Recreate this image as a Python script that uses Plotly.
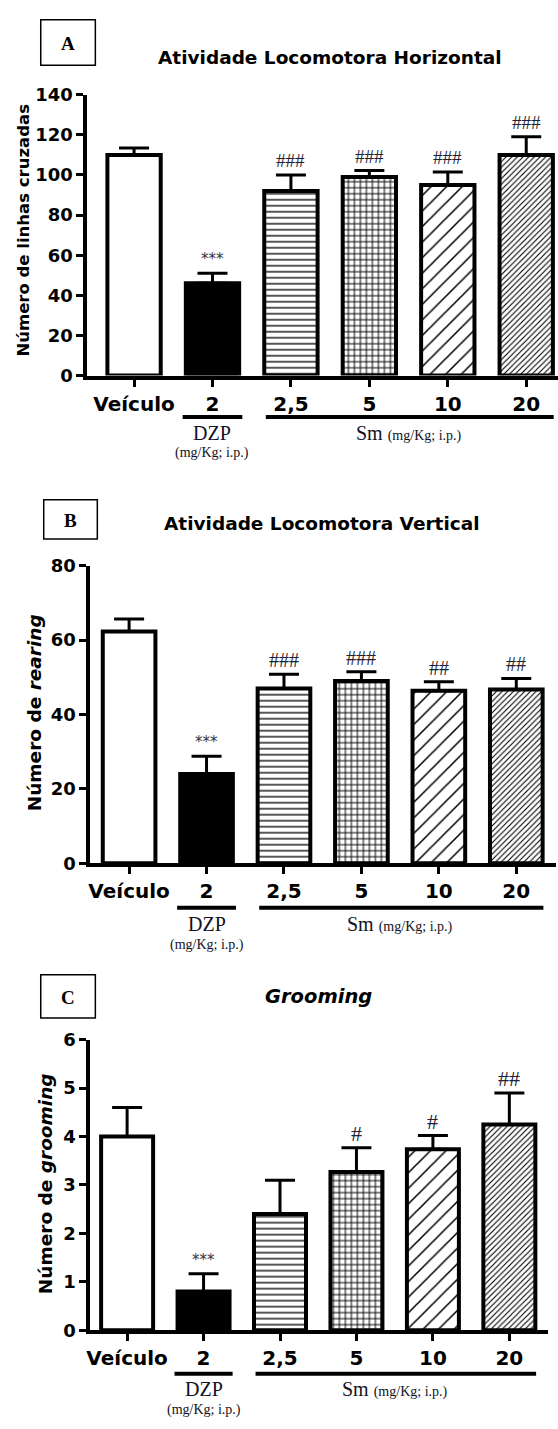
import plotly.graph_objects as go

W, H = 558, 1429

categories = ["Veículo", "2", "2,5", "5", "10", "20"]

a_mean = [110, 46, 92, 99, 95, 110]
a_err = [3.5, 5, 8, 3.2, 6.5, 9]
a_sig = ["", "***", "###", "###", "###", "###"]

b_mean = [62.3, 24, 47, 49, 46.4, 46.7]
b_err = [3.4, 4.8, 3.8, 2.5, 2.4, 3.0]
b_sig = ["", "***", "###", "###", "##", "##"]

c_mean = [4.0, 0.8, 2.4, 3.27, 3.74, 4.25]
c_err = [0.6, 0.37, 0.7, 0.5, 0.28, 0.65]
c_sig = ["", "***", "", "#", "#", "##"]

a_ticks = [0, 20, 40, 60, 80, 100, 120, 140]
b_ticks = [0, 20, 40, 60, 80]
c_ticks = [0, 1, 2, 3, 4, 5, 6]

fill_colors = ["white", "black", "white", "white", "white", "white"]
pat_shapes = ["", "", "-", "+", "/", "/"]
pat_sizes = [8, 8, 6, 6, 11, 4]
pat_solid = [0.2, 0.2, 0.22, 0.3, 0.14, 0.28]


def xp(px):
    return px / W


def yp(py):
    return 1 - py / H


panels = [
    dict(k="", m=a_mean, e=a_err, s=a_sig, t=a_ticks, ymax=140, y0=370, y1=85, ax=84, c0=131, sp=79, right=558,
         title="Atividade Locomotora Horizontal", tcx=328, tcy=47, tsize=18.5,
         ytitle="Número de linhas cruzadas", ytx=20, yty=222, ytsize=16.5,
         line_y=412, lab_y=428, mg_y=449, box=(37, 9, 92, 55), letter="A", sigsize=19),
    dict(k="2", m=b_mean, e=b_err, s=b_sig, t=b_ticks, ymax=80, y0=865, y1=563, ax=87, c0=126, sp=78, right=556,
         title="Atividade Locomotora Vertical", tcx=320, tcy=520, tsize=18.5,
         ytitle="Número de <i>rearing</i>", ytx=31, yty=712, ytsize=18.5,
         line_y=910, lab_y=927, mg_y=948, box=(40, 496, 94, 536), letter="B", sigsize=20),
    dict(k="3", m=c_mean, e=c_err, s=c_sig, t=c_ticks, ymax=6, y0=1339, y1=1044, ax=87, c0=124, sp=77, right=548,
         title="<i>Grooming</i>", tcx=317, tcy=1000, tsize=19.5,
         ytitle="Número de <i>grooming</i>", ytx=42, yty=1190, ytsize=18.5,
         line_y=1383, lab_y=1399, mg_y=1420, box=(37, 978, 92, 1022), letter="C", sigsize=22),
]

fig = go.Figure()
annotations = []
shapes = []
layout = {}

for p in panels:
    k = p["k"]
    xa = "x" + k
    ya = "y" + k
    for i, cat in enumerate(categories):
        pattern = dict(shape=pat_shapes[i], size=pat_sizes[i], solidity=pat_solid[i],
                       fgcolor="black", bgcolor=fill_colors[i], fillmode="replace")
        fig.add_trace(go.Bar(
            x=[i], y=[p["m"][i]], xaxis=xa, yaxis=ya, width=0.68,
            marker=dict(color=fill_colors[i], line=dict(color="black", width=4), pattern=pattern),
            error_y=dict(type="data", array=[p["e"][i]], arrayminus=[0], symmetric=False,
                         color="black", thickness=3, width=15),
            showlegend=False, hoverinfo="skip",
        ))
    left = (p["ax"] - p["c0"]) / p["sp"]
    right = (p["right"] - p["c0"]) / p["sp"]
    layout["xaxis" + k] = dict(
        domain=[xp(p["ax"]), xp(p["right"])], anchor=ya, type="linear",
        range=[left, right], tickvals=list(range(len(categories))), ticktext=categories,
        showline=True, linecolor="black", linewidth=4,
        ticks="outside", ticklen=7, tickwidth=3, tickcolor="black",
        tickfont=dict(family="DejaVu Sans", size=20, color="black", weight="bold"),
        showgrid=False, zeroline=False, fixedrange=True,
    )
    layout["yaxis" + k] = dict(
        domain=[yp(p["y0"]), yp(p["y1"])], anchor=xa, range=[0, p["ymax"]],
        tickvals=p["t"], showline=True, linecolor="black", linewidth=4,
        ticks="outside", ticklen=7, tickwidth=3, tickcolor="black",
        tickfont=dict(family="DejaVu Sans", size=18, color="black", weight="bold"),
        showgrid=False, zeroline=False, fixedrange=True,
    )
    for i, (m, e, s) in enumerate(zip(p["m"], p["e"], p["s"])):
        if not s:
            continue
        if s.startswith("*"):
            font = dict(family="DejaVu Sans", size=15, color="#333344")
        else:
            font = dict(family="Liberation Serif", size=p["sigsize"], color="#222233")
        annotations.append(dict(x=i, y=m + e, xref=xa, yref=ya, text=s, showarrow=False,
                                yanchor="middle", yshift=14, font=font))
    tfont = dict(family="DejaVu Sans", size=p["tsize"], color="black", weight="bold")
    annotations.append(dict(x=xp(p["tcx"]), y=yp(p["tcy"]), xref="paper", yref="paper",
                            text=p["title"], showarrow=False, xanchor="center", yanchor="middle",
                            font=tfont))
    annotations.append(dict(x=xp(p["ytx"]), y=yp(p["yty"]), xref="paper", yref="paper",
                            text=p["ytitle"], showarrow=False, textangle=-90,
                            xanchor="center", yanchor="middle",
                            font=dict(family="DejaVu Sans", size=p["ytsize"], color="black",
                                      weight="bold")))
    bx0, by0, bx1, by1 = p["box"]
    shapes.append(dict(type="rect", xref="paper", yref="paper", x0=xp(bx0), x1=xp(bx1),
                       y0=yp(by1), y1=yp(by0), line=dict(color="black", width=1.5)))
    annotations.append(dict(x=xp((bx0 + bx1) / 2), y=yp((by0 + by1) / 2 + 1), xref="paper", yref="paper",
                            text="<b>" + p["letter"] + "</b>", showarrow=False,
                            xanchor="center", yanchor="middle",
                            font=dict(family="Liberation Serif", size=19, color="black")))
    ly = yp(p["line_y"])
    shapes.append(dict(type="line", xref=xa, yref="paper", x0=1 - 0.38, x1=1 + 0.38, y0=ly, y1=ly,
                       line=dict(color="black", width=4)))
    shapes.append(dict(type="line", xref=xa, yref="paper", x0=2 - 0.32, x1=5 + 0.35, y0=ly, y1=ly,
                       line=dict(color="black", width=4)))
    annotations.append(dict(x=1, y=yp(p["lab_y"]), xref=xa, yref="paper", text="DZP",
                            showarrow=False, xanchor="center", yanchor="middle",
                            font=dict(family="Liberation Serif", size=20, color="#111122")))
    annotations.append(dict(x=1, y=yp(p["mg_y"]), xref=xa, yref="paper", text="(mg/Kg; i.p.)",
                            showarrow=False, xanchor="center", yanchor="middle",
                            font=dict(family="Liberation Serif", size=14, color="#111122")))
    annotations.append(dict(x=3.5, y=yp(p["lab_y"]), xref=xa, yref="paper",
                            text="Sm <span style='font-size:14px'>(mg/Kg; i.p.)</span>",
                            showarrow=False, xanchor="center", yanchor="middle",
                            font=dict(family="Liberation Serif", size=20, color="#111122")))

fig.update_layout(
    width=W, height=H, margin=dict(l=0, r=0, t=0, b=0),
    paper_bgcolor="white", plot_bgcolor="white", barmode="overlay",
    annotations=annotations, shapes=shapes,
    **layout,
)

fig.write_html("out.html", config={"displayModeBar": False})
